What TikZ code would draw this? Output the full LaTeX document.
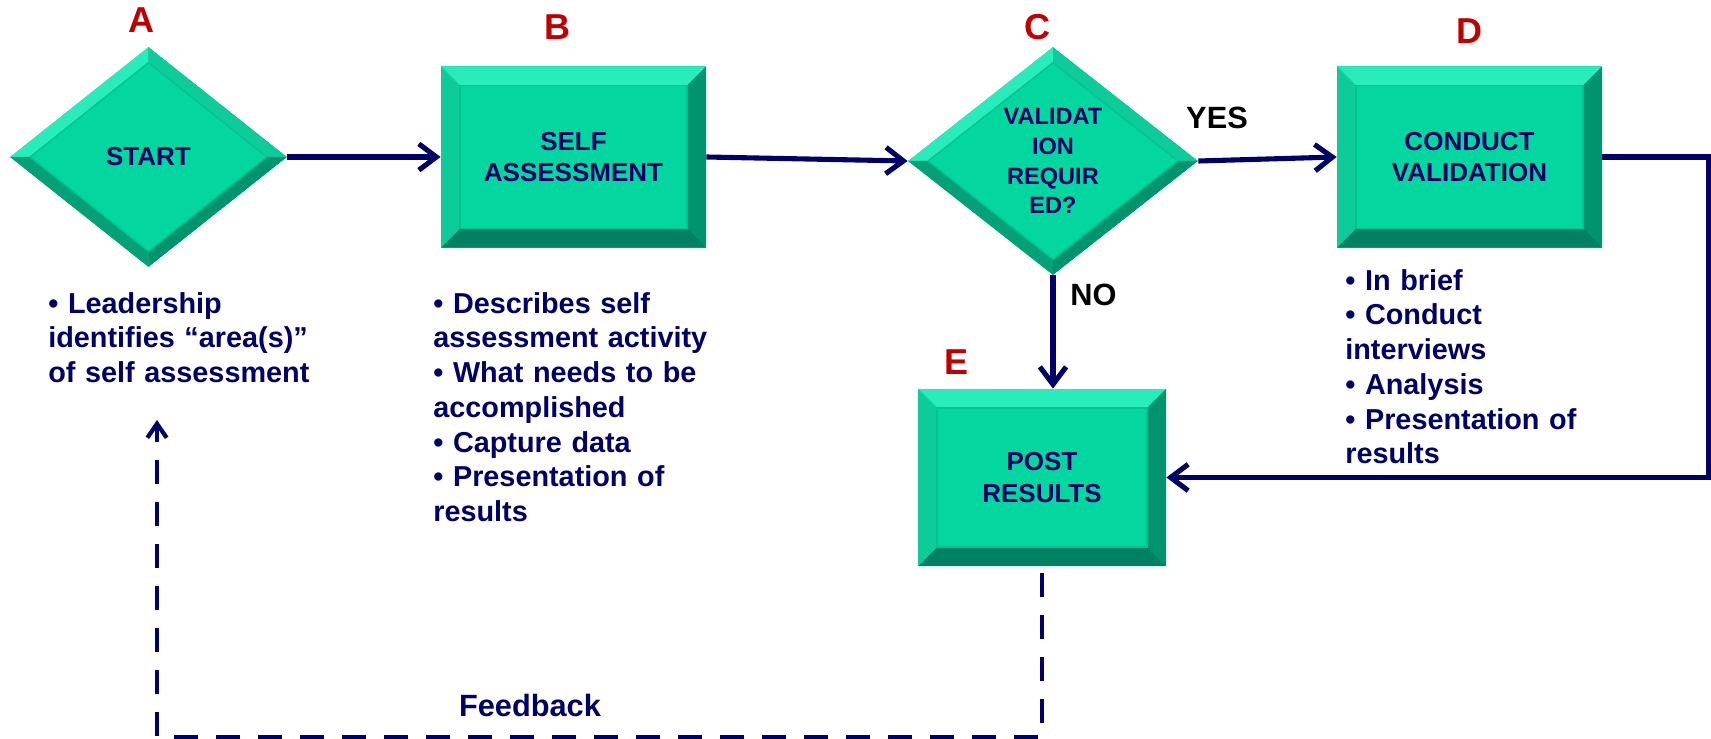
\documentclass[tikz,border=0pt]{standalone}
\usepackage{fontspec}
\setmainfont{Liberation Sans}
\usepackage{tikz}
\usetikzlibrary{arrows.meta,shapes.geometric,positioning}
\usepackage{xcolor}
\definecolor{dfteal}{RGB}{4,214,160}
\definecolor{dfbevtop}{RGB}{40,236,186}
\definecolor{dfbevleft}{RGB}{14,204,154}
\definecolor{dfbevright}{RGB}{0,148,110}
\definecolor{dfbevbot}{RGB}{0,130,98}
\definecolor{dfbevline}{RGB}{0,196,146}
\definecolor{dfnavy}{RGB}{0,0,102}
\definecolor{dfred}{RGB}{192,0,0}
\newcommand{\bev}{0.38cm}
\newcommand{\bevx}{0.4cm}
\newcommand{\bevy}{0.31cm}
\tikzstyle{process} = [rectangle, minimum width=5.3cm, minimum height=3.62cm, inner sep=0pt, align=center, fill=dfteal, text=dfnavy, font=\fontsize{14.8}{18}\selectfont\bfseries,
  path picture={
    \coordinate (tl) at (path picture bounding box.north west);
    \coordinate (tr) at (path picture bounding box.north east);
    \coordinate (bl) at (path picture bounding box.south west);
    \coordinate (br) at (path picture bounding box.south east);
    \fill[dfbevtop] (tl) -- (tr) -- ([shift={(-\bev,-\bev)}]tr) -- ([shift={(\bev,-\bev)}]tl) -- cycle;
    \fill[dfbevright] (tr) -- (br) -- ([shift={(-\bev,\bev)}]br) -- ([shift={(-\bev,-\bev)}]tr) -- cycle;
    \fill[dfbevbot] (br) -- (bl) -- ([shift={(\bev,\bev)}]bl) -- ([shift={(-\bev,\bev)}]br) -- cycle;
    \fill[dfbevleft] (bl) -- (tl) -- ([shift={(\bev,-\bev)}]tl) -- ([shift={(\bev,\bev)}]bl) -- cycle;
    \draw[dfbevline, line width=0.8pt] ([shift={(\bev,-\bev)}]tl) rectangle ([shift={(-\bev,\bev)}]br);
  }]
\tikzstyle{decision} = [diamond, minimum width=5.54cm, minimum height=4.4cm, inner sep=0pt, align=center, fill=dfteal, text=dfnavy, font=\fontsize{14.8}{18}\selectfont\bfseries,
  path picture={
    \coordinate (dn) at (path picture bounding box.north);
    \coordinate (ds) at (path picture bounding box.south);
    \coordinate (dw) at (path picture bounding box.west);
    \coordinate (de) at (path picture bounding box.east);
    \fill[dfbevtop] (dw) -- (dn) -- ([yshift=-\bevy]dn) -- ([xshift=\bevx]dw) -- cycle;
    \fill[dfbevleft] (dn) -- (de) -- ([xshift=-\bevx]de) -- ([yshift=-\bevy]dn) -- cycle;
    \fill[dfbevright] (de) -- (ds) -- ([yshift=\bevy]ds) -- ([xshift=-\bevx]de) -- cycle;
    \fill[dfbevbot!60!dfbevleft] (ds) -- (dw) -- ([xshift=\bevx]dw) -- ([yshift=\bevy]ds) -- cycle;
    \draw[dfbevline, line width=0.8pt] ([yshift=-\bevy]dn) -- ([xshift=-\bevx]de) -- ([yshift=\bevy]ds) -- ([xshift=\bevx]dw) -- cycle;
  }]
\tikzstyle{arrow} = [line width=2.9pt,->,>={Straight Barb[length=10pt,width=15pt]},color=dfnavy]
\tikzstyle{feedback} = [line width=2.4pt,dash pattern=on 0.48cm off 0.36cm,->,>={Straight Barb[length=8pt,width=11pt]},color=dfnavy]
\tikzstyle{tag} = [inner sep=0pt, text=dfred, font=\fontsize{20.5}{24}\selectfont\bfseries]
\tikzstyle{answer} = [inner sep=0pt, text=black, font=\fontsize{17.5}{21}\selectfont\bfseries]
\tikzstyle{note} = [inner sep=0pt, anchor=base west, align=left, text=dfnavy, font=\fontsize{16.4}{19.8}\selectfont\bfseries]

\begin{document}
\begin{tikzpicture}[node distance=1.5cm]
\useasboundingbox (-2.97,-11.64) rectangle (31.25,3.14);
% Flow steps
\node (start) [decision] {START};
\node (self) [process, right of=start, xshift=7cm] {SELF\\ASSESSMENT};
\node (valid) [decision, right of=self, xshift=8.09cm, yshift=-0.08cm, minimum width=5.8cm, minimum height=4.56cm, font=\fontsize{13.4}{17}\selectfont\bfseries] {VALIDAT\\ION\\REQUIR\\ED?};
\node (conduct) [process, right of=valid, xshift=6.83cm, yshift=0.08cm] {CONDUCT\\VALIDATION};
\node (post) [process, below of=valid, xshift=-0.22cm, yshift=-4.83cm, minimum width=4.96cm, minimum height=3.54cm] {POST\\RESULTS};

% Step letters
\node (tagA) [tag, above of=start, xshift=-0.13cm, yshift=1.24cm] {A};
\node (tagB) [tag, above of=self, xshift=-0.32cm, yshift=1.09cm] {B};
\node (tagC) [tag, above of=valid, xshift=-0.3cm, yshift=1.18cm] {C};
\node (tagD) [tag, above of=conduct, yshift=1.02cm] {D};
\node (tagE) [tag, above of=post, xshift=-1.7cm, yshift=0.81cm] {E};

% Notes under the steps
\node (startnote) [note, text width=6cm] at (-2.01,-3.12) {• Leadership\\identifies “area(s)”\\of self assessment};
\node (selfnote) [note, text width=6.5cm] at (5.69,-3.12) {• Describes self\\assessment activity\\• What needs to be\\accomplished\\• Capture data\\• Presentation of\\results};
\node (conductnote) [note, text width=5.5cm] at (23.93,-2.66) {• In brief\\• Conduct\\interviews\\• Analysis\\• Presentation of\\results};

% Connectors
\draw [arrow] (start.east) -- (self.west);
\draw [arrow] (self.east) -- (valid.west);
\draw [arrow] (valid.east) -- (conduct.west);
\node (yes) [answer] at (21.37,0.78) {YES};
\draw [arrow] (valid.south) -- (valid.south |- post.north);
\node (no) [answer] at (18.9,-2.76) {NO};
\draw [arrow] (conduct.east) -- ++(2.12,0) |- (post.east);

% Feedback loop
\coordinate (fbtip) at (0.17,-5.26);
\draw [feedback, shorten <=0.14cm] (post.south) -- ++(0,-3.42) -| (fbtip);
\node (fblabel) [text=dfnavy, inner sep=0pt, font=\fontsize{17.5}{21}\selectfont\bfseries] at (7.63,-10.97) {Feedback};
\end{tikzpicture}
\end{document}
